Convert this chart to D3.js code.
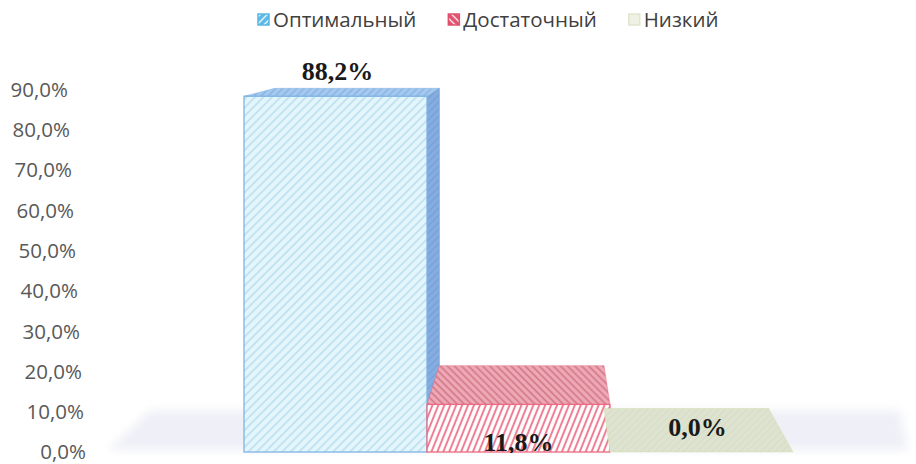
<!DOCTYPE html>
<html><head><meta charset="utf-8">
<script src="https://cdn.jsdelivr.net/npm/d3@7"></script>
<style>html,body{margin:0;padding:0;background:#fff;}svg{display:block;}</style>
</head><body>
<svg id="chart" width="916" height="464"></svg>
<script>
const categories = ["Оптимальный", "Достаточный", "Низкий"];
const values = [88.2, 11.8, 0.0];
const tickValues = [0, 10, 20, 30, 40, 50, 60, 70, 80, 90];

const W = 916, H = 464;
const svg = d3.select("#chart");
const fmt = v => d3.format(".1f")(v).replace(".", ",") + "%";

const x = d3.scaleBand().domain(categories).range([244, 793]).padding(0);
const y = d3.scaleLinear().domain([0, 90]).range([452, 89]);

// perspective
const VP = [550, 17], T = 0.1;
const back = p => [p[0] + (VP[0] - p[0]) * T, p[1] + (VP[1] - p[1]) * T];

const defs = svg.append("defs");
function hatch(id, bg, stroke, sw, size, angle) {
  const p = defs.append("pattern").attr("id", id).attr("patternUnits", "userSpaceOnUse")
    .attr("width", size).attr("height", size).attr("patternTransform", `rotate(${angle})`);
  p.append("rect").attr("width", size).attr("height", size).attr("fill", bg);
  p.append("line").attr("x1", size / 2).attr("x2", size / 2).attr("y1", 0).attr("y2", size)
    .attr("stroke", stroke).attr("stroke-width", sw);
}
hatch("pBlueFront", "#e4f6fc", "#b2dcee", 1.4, 6, 45);
hatch("pBlueTop", "#a6c9ee", "#86b3e4", 1.4, 5, 45);
hatch("pBlueSide", "#86addf", "#769fd6", 1.2, 5, 45);
hatch("pRedFront", "#ffffff", "#ef7d93", 2, 5.5, 22);
hatch("pRedTop", "#eeaab7", "#d27486", 1.6, 5, -45);
hatch("pGreen", "#dde3cf", "#d6dcc7", 1, 5, 45);
hatch("pLegBlue", "#5bb8e6", "#ffffff", 1.3, 5, 45);
hatch("pLegRed", "#e0506c", "#ffffff", 1.3, 5, -45);
const blur = defs.append("filter").attr("id", "fblur").attr("x", "-10%").attr("y", "-50%").attr("width", "120%").attr("height", "200%");
blur.append("feGaussianBlur").attr("stdDeviation", 5);

const fills = [
  {front: "url(#pBlueFront)", top: "url(#pBlueTop)", side: "url(#pBlueSide)", stroke: "#7fb4e4"},
  {front: "url(#pRedFront)", top: "url(#pRedTop)", side: "url(#pRedTop)", stroke: "#ec6a82"},
  {front: "url(#pGreen)", top: "url(#pGreen)", side: "url(#pGreen)", stroke: "#d3dac2"}
];

// floor
const fl = [[108, y(0) - 2], [908, y(0) - 2], [900, back([0, y(0)])[1] + 2], [150, back([0, y(0)])[1] + 2]];
svg.append("polygon").attr("points", fl.map(p => p.join(",")).join(" "))
  .attr("fill", "#eff0f7").attr("filter", "url(#fblur)");

// y axis
const axis = d3.axisLeft(y).tickValues(tickValues).tickFormat(fmt).tickSize(0).tickPadding(0);
const gA = svg.append("g").attr("transform", "translate(86,1)").call(axis);
gA.select(".domain").remove();
gA.selectAll(".tick text")
  .attr("font-family", "'Open Sans', sans-serif").attr("font-size", 20.5).attr("fill", "#595959")
  .attr("dy", "0.3em")
  .attr("transform", d => `translate(${-d * 0.2},${d === 0 ? -1 : 0})`);

// bars
const line = d3.line();
categories.forEach((c, i) => {
  const v = values[i];
  const x0 = x(c), x1 = x(c) + x.bandwidth();
  const yt = y(v), yb = y(0);
  const g = svg.append("g");
  const f = fills[i];
  const ftl = [x0, yt], ftr = [x1, yt], fbr = [x1, yb], fbl = [x0, yb];
  if (x1 < VP[0] && v > 0) {
    g.append("path").attr("d", line([ftr, back(ftr), back(fbr), fbr]) + "Z")
      .attr("fill", f.side).attr("stroke", "#7aa6dc").attr("stroke-width", 0.8);
  }
  g.append("path").attr("d", line([ftl, ftr, back(ftr), back(ftl)]) + "Z")
    .attr("fill", f.top).attr("stroke", v > 0 ? f.stroke : "#cfe0a8").attr("stroke-width", 0.8)
    .attr("stroke-opacity", 0.6);
  if (v > 0) {
    g.append("rect").attr("x", x0).attr("y", yt).attr("width", x1 - x0).attr("height", yb - yt)
      .attr("fill", f.front).attr("stroke", f.stroke).attr("stroke-width", 1.3);
  }
});

// data labels
const clip = defs.append("clipPath").attr("id", "clipLbl");
clip.append("rect").attr("x", 0).attr("y", 0).attr("width", W).attr("height", y(0) + 1);
svg.append("g").attr("clip-path", "url(#clipLbl)").selectAll("text").data(values).join("text")
  .attr("x", (d, i) => x(categories[i]) + x.bandwidth() / 2 + (i === 0 ? 2 : i === 1 ? 0 : -4))
  .attr("y", (d, i) => i === 1 ? y(0) - 1 : (i === 0 ? back([0, y(d)])[1] - 8 : y(d) - 16))
  .attr("text-anchor", "middle")
  .attr("font-family", "'Liberation Serif', 'Times New Roman', serif").attr("font-weight", "bold")
  .attr("font-size", 26).attr("fill", "#1a1a1a")
  .text(d => fmt(d));

// legend
const legend = svg.append("g").attr("transform", "translate(257,0)");
const lfill = ["url(#pLegBlue)", "url(#pLegRed)", "#eef1e4"];
const lstroke = ["#58b6e3", "#e0506c", "#e0e6cf"];
let lx = 0;
categories.forEach((c, i) => {
  legend.append("rect").attr("x", lx + 1).attr("y", 14).attr("width", 11).attr("height", 11)
    .attr("fill", lfill[i]).attr("stroke", lstroke[i]).attr("stroke-width", 1.5);
  const t = legend.append("text").attr("x", lx + 16).attr("y", 27)
    .attr("font-family", "'Open Sans', sans-serif").attr("font-size", 20.5).attr("fill", "#404040")
    .text(c);
  lx += 16 + t.node().getComputedTextLength() + 31;
});
</script>
</body></html>
